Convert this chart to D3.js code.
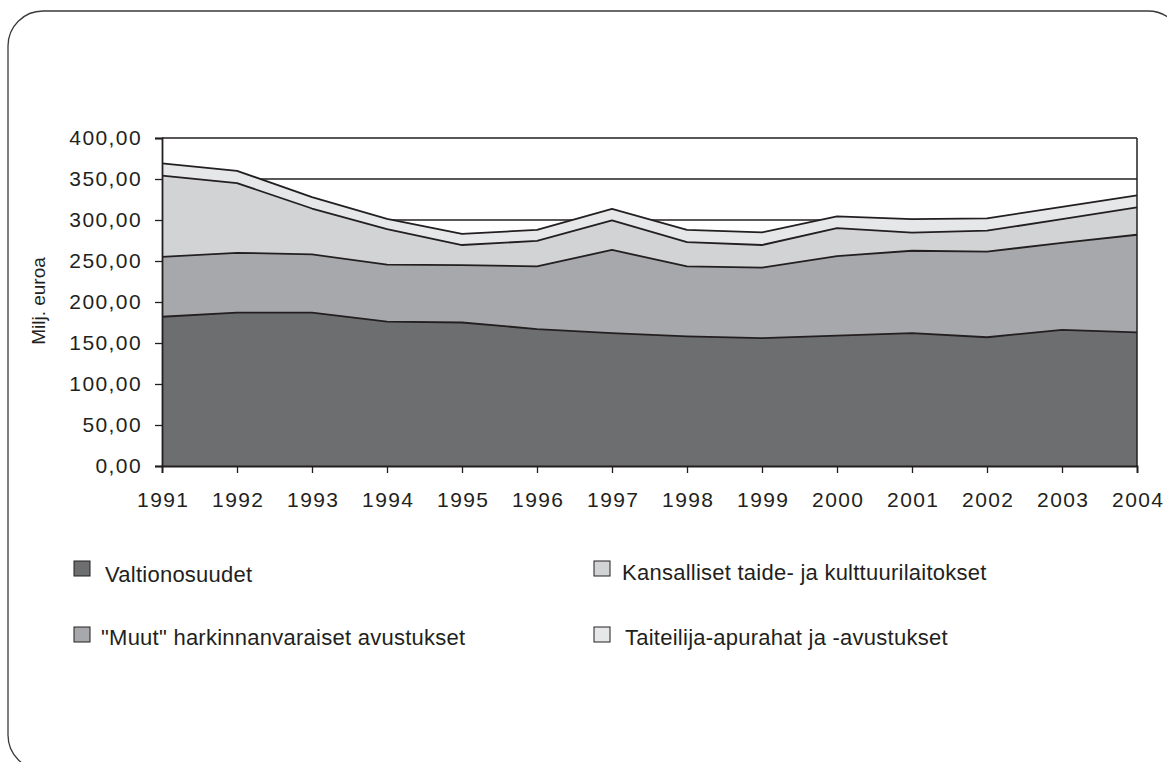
<!DOCTYPE html>
<html lang="fi">
<head>
<meta charset="UTF-8">
<title>Valtion kulttuurimenot</title>
<script src="https://d3js.org/d3.v7.min.js"></script>
<style>
  body { margin: 0; background: #fff; }
  text { font-family: "Liberation Sans", Arial, sans-serif; fill: #231f20; }
</style>
</head>
<body>
<div id="chart"></div>
<script>
// data (milj. euroa)
var years = [1991, 1992, 1993, 1994, 1995, 1996, 1997, 1998, 1999, 2000, 2001, 2002, 2003, 2004];
var valtionosuudet = [182, 187, 187, 176, 175, 167, 162, 158, 156, 159, 162, 157, 166, 163];
var muutAvustukset = [73, 73, 71, 69.5, 70, 76.5, 101.5, 85.5, 86, 97, 100.5, 104.5, 106, 119];
var kansallisetLaitokset = [99, 85, 56, 43.5, 24.5, 31, 36, 29.5, 27.5, 34, 22, 25.5, 29, 33.5];
var taiteilijaApurahat = [15, 15, 14, 12.5, 13.5, 13.5, 14, 15, 15.5, 14.5, 16.5, 15, 15, 14.5];
var yTicks = [0, 50, 100, 150, 200, 250, 300, 350, 400];

var seriesNames = ["Valtionosuudet", "\"Muut\" harkinnanvaraiset avustukset",
                   "Kansalliset taide- ja kulttuurilaitokset", "Taiteilija-apurahat ja -avustukset"];
var keys = ["v", "m", "k", "t"];
var colors = {v: "#6d6e70", m: "#a7a8ab", k: "#d2d3d5", t: "#e6e7e8"};

var table = years.map(function(y, i) {
  return {year: y, v: valtionosuudet[i], m: muutAvustukset[i], k: kansallisetLaitokset[i], t: taiteilijaApurahat[i]};
});

var W = 1167, H = 762;
var margin = {left: 162, top: 138};
var width = 1137 - margin.left, height = 466 - margin.top;

var svg = d3.select("#chart").append("svg")
  .attr("width", W).attr("height", H);

// outer rounded frame
svg.append("rect")
  .attr("x", 8).attr("y", 11).attr("width", 1175).attr("height", 759)
  .attr("rx", 35).attr("ry", 35)
  .attr("fill", "none").attr("stroke", "#3a3a3a").attr("stroke-width", 1.3);

var g = svg.append("g").attr("transform", "translate(" + margin.left + "," + margin.top + ")");

var x = d3.scaleLinear().domain(d3.extent(years)).range([0, width]);
var y = d3.scaleLinear().domain([0, 400]).range([height, 0]);

// gridlines
g.selectAll(".grid").data(yTicks).enter().append("line")
  .attr("x1", 0).attr("x2", width)
  .attr("y1", function(d) { return y(d); }).attr("y2", function(d) { return y(d); })
  .attr("stroke", "#231f20").attr("stroke-width", 1.3);

var stack = d3.stack().keys(keys);
var layers = stack(table);

var area = d3.area()
  .x(function(d) { return x(d.data.year); })
  .y0(function(d) { return y(d[0]); })
  .y1(function(d) { return y(d[1]); });

var topLine = d3.line()
  .x(function(d) { return x(d.data.year); })
  .y(function(d) { return y(d[1]); });

g.selectAll(".layer").data(layers).enter().append("path")
  .attr("d", area)
  .attr("fill", function(d) { return colors[d.key]; });

g.selectAll(".edge").data(layers).enter().append("path")
  .attr("d", topLine)
  .attr("fill", "none")
  .attr("stroke", "#231f20").attr("stroke-width", 1.8)
  .attr("stroke-linejoin", "round");

// plot border right
g.append("line").attr("x1", width).attr("x2", width).attr("y1", 0).attr("y2", height)
  .attr("stroke", "#231f20").attr("stroke-width", 1.5);

// axes
var yAxis = g.append("g")
  .call(d3.axisLeft(y).tickValues(yTicks).tickSize(7).tickPadding(14)
    .tickFormat(function(d) { return d3.format(".2f")(d).replace(".", ","); }));
var xAxis = g.append("g").attr("transform", "translate(0," + height + ")")
  .call(d3.axisBottom(x).tickValues(years).tickSize(7).tickPadding(19).tickFormat(d3.format("d")));

[yAxis, xAxis].forEach(function(ax) {
  ax.select(".domain").attr("stroke", "#231f20").attr("stroke-width", 1.8);
  ax.selectAll(".tick line").attr("stroke", "#231f20").attr("stroke-width", 1.3);
  ax.selectAll("text")
    .style("font-family", "'Liberation Sans', Arial, sans-serif")
    .style("font-size", "21px").style("letter-spacing", "1.4px")
    .attr("fill", "#231f20");
});
yAxis.selectAll("text").attr("dx", "1px");
xAxis.selectAll("text").attr("dx", "0.7px");

// y label
svg.append("text")
  .attr("transform", "translate(45,301) rotate(-90)")
  .attr("text-anchor", "middle")
  .style("font-size", "19px")
  .text("Milj. euroa");

// legend
var legendPos = [
  {key: "v", sx: 74, sy: 561, tx: 105, ty: 582},
  {key: "m", sx: 74, sy: 627, tx: 101, ty: 645},
  {key: "k", sx: 594, sy: 561, tx: 622, ty: 580},
  {key: "t", sx: 594, sy: 627, tx: 625, ty: 645}
];
var leg = svg.selectAll(".leg").data(legendPos).enter().append("g");
leg.append("rect")
  .attr("x", function(d) { return d.sx; }).attr("y", function(d) { return d.sy; })
  .attr("width", 16).attr("height", 15)
  .attr("fill", function(d) { return colors[d.key]; })
  .attr("stroke", "#231f20").attr("stroke-width", 1);
leg.append("text")
  .attr("x", function(d) { return d.tx; }).attr("y", function(d) { return d.ty; })
  .style("font-size", "22px").style("letter-spacing", "0.25px")
  .text(function(d) { return seriesNames[keys.indexOf(d.key)]; });
</script>
</body>
</html>
